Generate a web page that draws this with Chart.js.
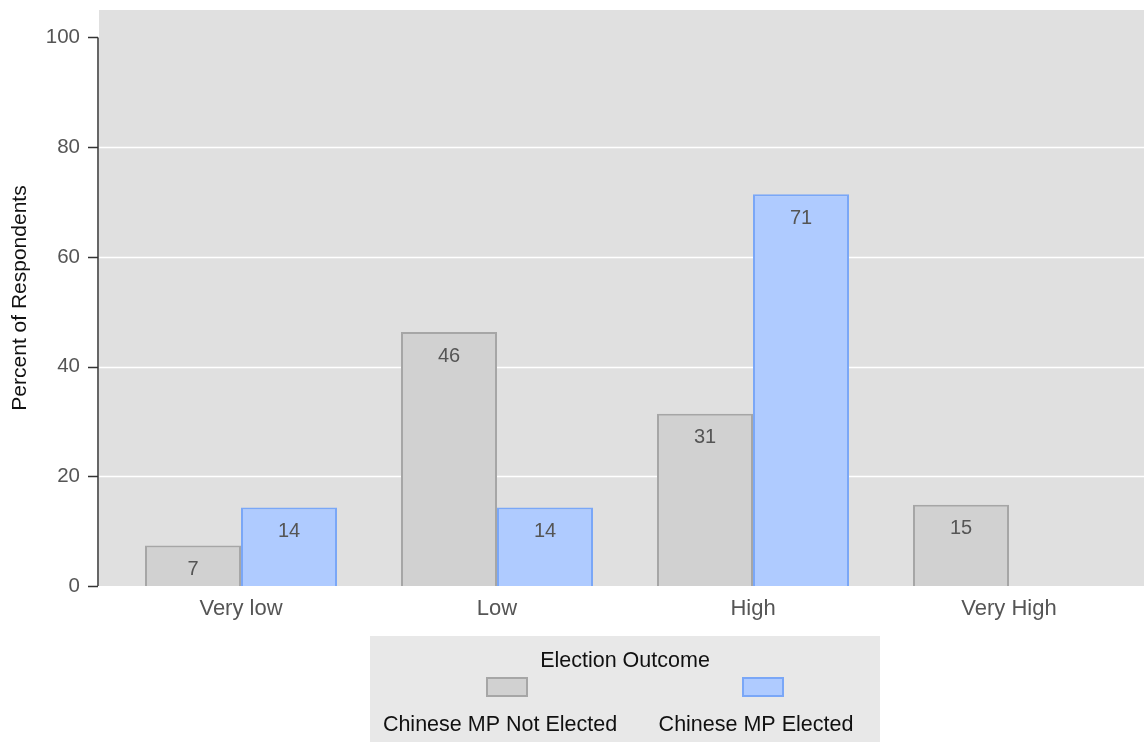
<!DOCTYPE html>
<html>
<head>
<meta charset="utf-8">
<script src="https://cdn.jsdelivr.net/npm/chart.js@4/dist/chart.umd.min.js"></script>
<style>
  html, body { margin: 0; padding: 0; background: #fff; }
  #wrap { width: 1144px; height: 742px; position: relative; }
</style>
</head>
<body>
<div id="wrap"><canvas id="chart" width="1144" height="742"></canvas></div>
<script>
// data
const categories = ['Very low', 'Low', 'High', 'Very High'];
const notElected = [7.4, 46.3, 31.4, 14.8];
const elected = [14.3, 14.3, 71.4, 0];
const seriesNames = ['Chinese MP Not Elected', 'Chinese MP Elected'];
const yTicks = [0, 20, 40, 60, 80, 100];

const FONT = 'Liberation Sans, Arial, Helvetica, sans-serif';
const PLOT_LEFT = 99, PLOT_RIGHT = 1144;

// plot background, gridlines, axis line and tick marks
const plotBg = {
  id: 'plotBg',
  beforeDatasetsDraw(chart) {
    const { ctx, chartArea } = chart;
    const y = chart.scales.y;
    ctx.save();
    ctx.fillStyle = '#e0e0e0';
    ctx.fillRect(PLOT_LEFT, chartArea.top, PLOT_RIGHT - PLOT_LEFT, chartArea.bottom - chartArea.top);
    ctx.strokeStyle = '#ffffff';
    ctx.lineWidth = 1.5;
    yTicks.forEach(v => {
      if (v === 0 || v === 100) return;
      const py = Math.round(y.getPixelForValue(v)) + 0.5;
      ctx.beginPath();
      ctx.moveTo(PLOT_LEFT, py);
      ctx.lineTo(PLOT_RIGHT, py);
      ctx.stroke();
    });
    ctx.strokeStyle = '#333';
    ctx.beginPath();
    ctx.moveTo(PLOT_LEFT - 1, y.getPixelForValue(0));
    ctx.lineTo(PLOT_LEFT - 1, y.getPixelForValue(100));
    ctx.stroke();
    yTicks.forEach(v => {
      const py = Math.round(y.getPixelForValue(v)) + 0.5;
      ctx.beginPath();
      ctx.moveTo(PLOT_LEFT - 11, py);
      ctx.lineTo(PLOT_LEFT - 1, py);
      ctx.stroke();
    });
    ctx.restore();
  }
};

// values inside top of bars
const barLabels = {
  id: 'barLabels',
  afterDatasetsDraw(chart) {
    const ctx = chart.ctx;
    ctx.save();
    ctx.font = '20px ' + FONT;
    ctx.fillStyle = '#555';
    ctx.textAlign = 'center';
    ctx.textBaseline = 'middle';
    chart.data.datasets.forEach((ds, i) => {
      chart.getDatasetMeta(i).data.forEach((bar, j) => {
        const v = ds.data[j];
        if (!v) return;
        ctx.fillText(Math.round(v), bar.x, bar.y + 24);
      });
    });
    ctx.restore();
  }
};

// legend box below the plot
const legendBox = {
  id: 'legendBox',
  afterDraw(chart) {
    const ctx = chart.ctx;
    const ds = chart.data.datasets;
    ctx.save();
    ctx.fillStyle = '#e8e8e8';
    ctx.fillRect(370, 636, 510, 106);
    ctx.font = '21.5px ' + FONT;
    ctx.fillStyle = '#111';
    ctx.textAlign = 'center';
    ctx.textBaseline = 'middle';
    ctx.fillText('Election Outcome', 625, 661);
    const centers = [507, 763];
    const textCenters = [500, 756];
    ds.forEach((d, i) => {
      ctx.fillStyle = d.backgroundColor;
      ctx.strokeStyle = d.borderColor;
      ctx.lineWidth = 2;
      ctx.fillRect(centers[i] - 20, 678, 40, 18);
      ctx.strokeRect(centers[i] - 20, 678, 40, 18);
      ctx.fillStyle = '#111';
      ctx.fillText(d.label, textCenters[i], 725);
    });
    ctx.restore();
  }
};

new Chart(document.getElementById('chart'), {
  type: 'bar',
  data: {
    labels: categories,
    datasets: [
      {
        label: seriesNames[0],
        data: notElected,
        backgroundColor: '#d1d1d1',
        borderColor: '#a6a6a6',
        borderWidth: 2
      },
      {
        label: seriesNames[1],
        data: elected,
        backgroundColor: '#afcbff',
        borderColor: '#7aa7f7',
        borderWidth: 2
      }
    ]
  },
  options: {
    responsive: false,
    animation: false,
    categoryPercentage: 0.75,
    barPercentage: 1.0,
    layout: { padding: { top: 10, right: 7, left: 0, bottom: 0 } },
    plugins: {
      legend: { display: false },
      tooltip: { enabled: false }
    },
    scales: {
      x: {
        grid: { display: false },
        border: { display: false },
        ticks: { color: '#555', font: { size: 22, family: FONT }, padding: 2 },
        afterFit(scale) { scale.height = 156; }
      },
      y: {
        min: 0,
        max: 105,
        afterBuildTicks(scale) { scale.ticks = yTicks.map(v => ({ value: v })); },
        border: { display: false },
        grid: { display: false, drawTicks: false },
        ticks: { color: '#555', font: { size: 20.5, family: FONT }, padding: 33 },
        title: {
          display: true,
          text: 'Percent of Respondents',
          color: '#111',
          font: { size: 21, family: FONT },
          padding: { top: 8, bottom: 0 }
        },
        afterFit(scale) {
          scale.width = 113;
          scale.paddingTop = 0;
          scale.paddingBottom = 0;
        }
      }
    }
  },
  plugins: [plotBg, barLabels, legendBox]
});
</script>
</body>
</html>
